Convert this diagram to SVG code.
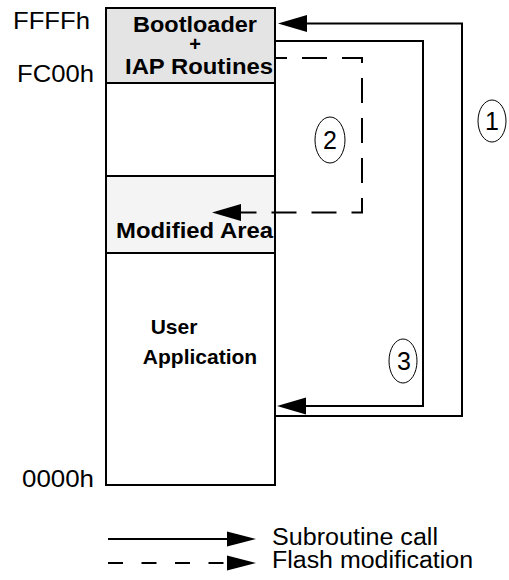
<svg xmlns="http://www.w3.org/2000/svg" width="509" height="580" viewBox="0 0 509 580">
  <style>
    .addr { font-family: "Liberation Sans", Arial, sans-serif; font-size: 24px; fill: #000; }
    .legend-text { font-family: "Liberation Sans", Arial, sans-serif; font-size: 23px; fill: #000; }
    .lbl { font-family: "Liberation Sans", Arial, sans-serif; font-size: 22.5px; font-weight: bold; fill: #000; text-anchor: middle; }
    .num { font-family: "Liberation Sans", Arial, sans-serif; font-size: 25px; fill: #000; text-anchor: middle; }
    .edge { fill: none; stroke: #000; stroke-width: 2; }
    .dash { stroke-dasharray: 25 15; }
    .bubble { fill: none; stroke: #000; stroke-width: 1; }
  </style>
  <defs>
    <marker id="head" markerUnits="userSpaceOnUse" markerWidth="30" markerHeight="18" refX="0" refY="8.5" orient="auto" overflow="visible">
      <path d="M0,0 L29,8.5 L0,17 Z" fill="#000"/>
    </marker>
    <marker id="headSmall" markerUnits="userSpaceOnUse" markerWidth="30" markerHeight="16" refX="0" refY="7.5" orient="auto" overflow="visible">
      <path d="M0,0 L29,7.5 L0,15 Z" fill="#000"/>
    </marker>
  </defs>

  <rect width="509" height="580" fill="#fff"/>

  <!-- address labels -->
  <g id="addresses">
    <text class="addr" x="13" y="29" textLength="77" lengthAdjust="spacingAndGlyphs">FFFFh</text>
    <text class="addr" x="17" y="82" textLength="77" lengthAdjust="spacingAndGlyphs">FC00h</text>
    <text class="addr" x="22" y="487" textLength="72" lengthAdjust="spacingAndGlyphs">0000h</text>
  </g>

  <!-- memory map -->
  <g id="memory">
    <rect x="106" y="8" width="169" height="477" fill="#fff" stroke="#000" stroke-width="2"/>
  </g>

  <g id="bootloader">
    <rect x="106" y="8" width="169" height="75" fill="#e4e4e4" stroke="#000" stroke-width="2"/>
    <text class="lbl" x="195" y="32" textLength="124" lengthAdjust="spacingAndGlyphs">Bootloader</text>
    <text class="lbl" x="195" y="51" style="font-size:20px">+</text>
    <text class="lbl" x="199" y="74" textLength="148" lengthAdjust="spacingAndGlyphs">IAP Routines</text>
  </g>

  <g id="modified-area">
    <rect x="106" y="176" width="169" height="77" fill="#f4f4f4" stroke="#000" stroke-width="2"/>
    <text class="lbl" x="194.5" y="238" textLength="157" lengthAdjust="spacingAndGlyphs">Modified Area</text>
  </g>

  <g id="user-application">
    <text class="lbl" x="174" y="334" style="font-size:21px">User</text>
    <text class="lbl" x="200" y="364" style="font-size:21px">Application</text>
  </g>

  <!-- connectors -->
  <g id="connectors">
    <path class="edge" d="M276,416 H462 V23.5 H307" marker-end="url(#head)"/>
    <path class="edge" d="M276,41 H423 V406 H306" marker-end="url(#head)"/>
    <path class="edge dash" stroke-dashoffset="14" d="M276,58 H362 V212.5 H241" marker-end="url(#head)"/>
  </g>

  <!-- step numbers -->
  <g id="step-1">
    <ellipse class="bubble" cx="492" cy="121" rx="14" ry="21"/>
    <text class="num" x="492" y="130">1</text>
  </g>
  <g id="step-2">
    <ellipse class="bubble" cx="330" cy="140" rx="15" ry="23"/>
    <text class="num" x="330" y="149">2</text>
  </g>
  <g id="step-3">
    <ellipse class="bubble" cx="403" cy="361" rx="14" ry="22"/>
    <text class="num" x="404" y="370">3</text>
  </g>

  <!-- legend -->
  <g id="legend">
    <path class="edge" d="M108,539 H227" marker-end="url(#headSmall)"/>
    <path class="edge" stroke-dasharray="15 18.5" d="M108,563 H227" marker-end="url(#headSmall)"/>
    <text class="legend-text" x="272" y="545" textLength="166" lengthAdjust="spacingAndGlyphs">Subroutine call</text>
    <text class="legend-text" x="272" y="568" textLength="201" lengthAdjust="spacingAndGlyphs">Flash modification</text>
  </g>
</svg>
